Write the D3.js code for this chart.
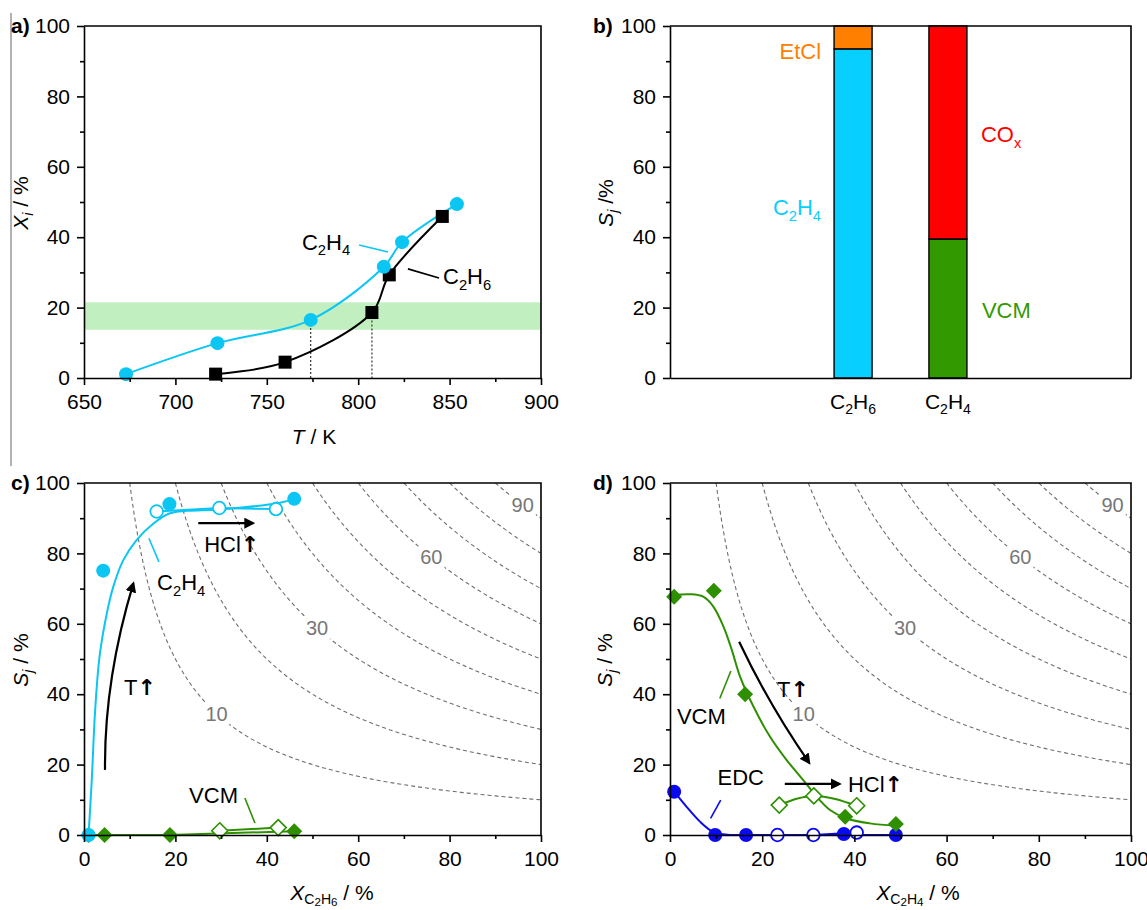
<!DOCTYPE html>
<html lang="en">
<head>
<meta charset="UTF-8">
<title>conversion / selectivity</title>
<script src="https://cdn.jsdelivr.net/npm/d3@7"></script>
<style>
body{margin:0;background:#fff;}
svg{display:block;font-family:"Liberation Sans",Arial,sans-serif;}
.axis path,.axis line{stroke:#000;stroke-width:1.6;}
.axis text{font-size:21px;fill:#000;font-family:"Liberation Sans",Arial,sans-serif;}
text{fill:#000;}
.arr{font-family:"DejaVu Sans",sans-serif;}
</style>
</head>
<body>
<svg id="fig" width="1147" height="910"></svg>
<script>
// ---------- data ----------
// a) conversion vs temperature
var aTempC2H4=[673,723,774,814,824,854];
var aConvC2H4=[1.1,9.9,16.5,31.6,38.6,49.4];
var aTempC2H6=[722,760,807.5,817,846];
var aConvC2H6=[1.1,4.5,18.6,29.3,45.9];
var aBand=[13.7,21.5];
var aTicksX=[650,700,750,800,850,900];
var aMinorX=[675,725,775,825,875];
var yTicks=[0,20,40,60,80,100];
var yMinor=[10,30,50,70,90];

// b) selectivity, stacked bars
var bCats=['C2H6','C2H4'];
var bLowerName=['C2H4','VCM'];
var bLower=[93.5,39.5];
var bUpperName=['EtCl','COx'];
var bUpper=[6.5,60.5];

// c) S vs X(C2H6)
var cC2H4X=[1.0,4.2,18.7,46.0];
var cC2H4S=[0,75.1,94.0,95.5];
var cC2H4OpenX=[15.9,29.6,42.0];
var cC2H4OpenS=[91.9,92.9,92.6];
var cFitX=[1.0,1.7,2.4,3.4,5.0,6.4,8.6,11.5,15.2,18.8,22.5,29.8,42.9,46.0];
var cFitS=[0,15.6,34.6,50.7,63,70.5,78.1,83.8,88.5,91.4,92.1,92.5,94.4,95.5];
var cVcmX=[1.0,4.5,18.8,46.0];
var cVcmS=[0,0,0,1.1];
var cVcmOpenX=[29.7,42.5];
var cVcmOpenS=[1.2,2.1];

// d) S vs X(C2H4)
var dVcmX=[0.9,9.5,16.3,38.0,49.0];
var dVcmS=[67.7,69.4,40.0,5.2,3.1];
var dVcmOpenX=[23.7,31.2,40.5];
var dVcmOpenS=[8.5,11.1,8.3];
var dVcmFitX=[0.9,4.3,7.2,9.4,11.6,13.4,15.2,18.1,21.7,25.3,28.9,31.8,34.7,38.3,43.4,49.0];
var dVcmFitS=[68.2,68.4,67.7,64.9,59.2,52.6,45,36.5,27.9,21.3,15.6,10.9,7.1,4.7,3.3,2.6];
var dEdcX=[0.9,9.8,16.5,37.7,49.0];
var dEdcS=[12.3,0,0,0.3,0];
var dEdcOpenX=[23.3,31.1,40.5];
var dEdcOpenS=[0,0,0.7];
var dEdcFitX=[0.9,3.6,6.5,9.4,13.0,20,30,40,49.0];
var dEdcFitS=[12.3,8,3.8,0.9,0,0,0,0,0];

// iso-yield lines (yield = X*S/100)
var yieldLevels=[10,20,30,40,50,60,70,80,90];
var yieldLabels=[10,30,60,90];
var yieldLabelX=[29,51,76,96];
var xTicksPct=[0,20,40,60,80,100];
var xMinorPct=[10,30,50,70,90];

// ---------- style ----------
var cyan='#0BC6F2', cyanBar='#07CFFF', green='#2E8F00', greenBar='#339900',
    blue='#0A0AF0', orange='#FF8000', red='#FF0000';
var annSize=22;

var svg=d3.select('#fig');
svg.append('rect').attr('width',1147).attr('height',910).attr('fill','#fff');

var defs=svg.append('defs');
defs.append('marker').attr('id','ah').attr('viewBox','0 0 10 10')
    .attr('refX',8).attr('refY',5).attr('markerWidth',11).attr('markerHeight',11)
    .attr('markerUnits','userSpaceOnUse').attr('orient','auto')
    .append('path').attr('d','M0,0L10,5L0,10Z').attr('fill','#000');

var PA={l:84,r:541,t:26,b:378};
var PB={l:670,r:1131,t:26,b:378};
var PC={l:84,r:541,t:483,b:835};
var PD={l:670,r:1131,t:483,b:835};

// text with italic / subscript parts: [text, flags] flags: i=italic, s=sub, ss=subsub, a=arrow glyph
function rich(g,segs,size,subs){
    subs=subs||[0.25,0.4];
    var t=g.append('text').style('font-size',size+'px');
    var shift=0;
    segs.forEach(function(s){
        var f=s[1]||'';
        var lvl=f.split('s').length-1;
        var target=[0,size*subs[0],size*subs[1]][lvl];
        var fs=[size,size*0.67,size*0.55][lvl];
        var sp=t.append('tspan').text(s[0]).attr('dy',target-shift).style('font-size',fs+'px');
        if(f.indexOf('i')>=0) sp.style('font-style','italic');
        if(f.indexOf('a')>=0) sp.attr('class','arr').style('font-weight','bold');
        shift=target;
    });
    return t;
}
function chem(str){
    return str.split('').map(function(c){ return [c, /[0-9]/.test(c)?'s':'']; });
}

function frame(p){
    svg.append('path').attr('d','M'+p.l+','+p.t+'H'+p.r+'V'+p.b)
        .attr('fill','none').attr('stroke','#000').attr('stroke-width',1.6);
}
function axes(p,xs,ys,xMaj,xMin){
    frame(p);
    var g=svg.append('g');
    if(xMaj){
        g.append('g').attr('class','axis').attr('transform','translate(0,'+p.b+')')
            .call(d3.axisBottom(xs).tickValues(xMin).tickSize(4).tickSizeOuter(0).tickFormat(''))
            .select('.domain').remove();
        g.append('g').attr('class','axis').attr('transform','translate(0,'+p.b+')')
            .call(d3.axisBottom(xs).tickValues(xMaj).tickSize(7).tickSizeOuter(0).tickPadding(9));
    } else {
        g.append('g').attr('class','axis').attr('transform','translate(0,'+p.b+')')
            .call(d3.axisBottom(xs).tickValues([]).tickSizeOuter(0));
    }
    g.append('g').attr('class','axis').attr('transform','translate('+p.l+',0)')
        .call(d3.axisLeft(ys).tickValues(yMinor).tickSize(4).tickFormat(''))
        .select('.domain').remove();
    g.append('g').attr('class','axis').attr('transform','translate('+p.l+',0)')
        .call(d3.axisLeft(ys).tickValues(yTicks).tickSize(7).tickSizeOuter(0).tickPadding(7));
    g.selectAll('.axis').attr('font-family',null).attr('font-size',null);
}
function panelLabel(txt,x,y){
    svg.append('text').attr('x',x).attr('y',y).text(txt)
        .style('font-size','21px').style('font-weight','bold');
}
function yTitle(segs,x,cy){
    rich(svg,segs,21).attr('transform','translate('+x+','+cy+') rotate(-90)')
        .attr('text-anchor','middle');
}
function xTitle(segs,cx,y,subs){
    rich(svg,segs,21,subs).attr('x',cx).attr('y',y).attr('text-anchor','middle');
}
function zip(a,b){ return a.map(function(v,i){ return [v,b[i]]; }); }

function circles(g,pts,xs,ys,col,open){
    g.selectAll(null).data(pts).enter().append('circle')
        .attr('cx',function(d){return xs(d[0]);}).attr('cy',function(d){return ys(d[1]);})
        .attr('r',open?6.3:7)
        .attr('fill',open?'#fff':col).attr('stroke',col).attr('stroke-width',open?1.8:0);
}
function diamonds(g,pts,xs,ys,col,open){
    g.selectAll(null).data(pts).enter().append('path')
        .attr('d','M0,-8L8,0L0,8L-8,0Z')
        .attr('transform',function(d){return 'translate('+xs(d[0])+','+ys(d[1])+')';})
        .attr('fill',open?'#fff':col).attr('stroke',col).attr('stroke-width',open?1.6:0);
}
function squares(g,pts,xs,ys,col){
    g.selectAll(null).data(pts).enter().append('rect')
        .attr('x',function(d){return xs(d[0])-6.5;}).attr('y',function(d){return ys(d[1])-6.5;})
        .attr('width',13).attr('height',13).attr('fill',col);
}
function curve(g,pts,xs,ys,col,type){
    g.append('path').datum(pts)
        .attr('d',d3.line().x(function(d){return xs(d[0]);}).y(function(d){return ys(d[1]);})
            .curve(type||d3.curveCatmullRom.alpha(0.5)))
        .attr('fill','none').attr('stroke',col).attr('stroke-width',2);
}
function seg(g,xs,ys,p0,p1,col,arrow){
    var l=g.append('line').attr('x1',xs(p0[0])).attr('y1',ys(p0[1]))
        .attr('x2',xs(p1[0])).attr('y2',ys(p1[1]))
        .attr('stroke',col).attr('stroke-width',arrow?2.2:1.6);
    if(arrow) l.attr('marker-end','url(#ah)');
}
function bentArrow(g,xs,ys,p0,c,p1){
    g.append('path')
        .attr('d','M'+xs(p0[0])+','+ys(p0[1])+'Q'+xs(c[0])+','+ys(c[1])+' '+xs(p1[0])+','+ys(p1[1]))
        .attr('fill','none').attr('stroke','#000').attr('stroke-width',2.2)
        .attr('marker-end','url(#ah)');
}
function label(g,xs,ys,pos,segs,col){
    var t=rich(g,segs,annSize).attr('x',xs(pos[0])).attr('y',ys(pos[1]));
    if(col) t.selectAll('tspan').style('fill',col);
    return t;
}

// thin stray rule at left edge
svg.append('line').attr('x1',11).attr('x2',11).attr('y1',13).attr('y2',466)
    .attr('stroke','#666').attr('stroke-width',1);

// ---------- a) ----------
(function(){
    var p=PA;
    var x=d3.scaleLinear().domain([650,900]).range([p.l,p.r]);
    var y=d3.scaleLinear().domain([0,100]).range([p.b,p.t]);
    var g=svg.append('g');
    g.append('rect').attr('x',p.l).attr('width',p.r-p.l)
        .attr('y',y(aBand[1])).attr('height',y(aBand[0])-y(aBand[1])).attr('fill','#C2EFC0');
    // dotted drop lines from the points inside the band
    [[aTempC2H4[2],aConvC2H4[2]],[aTempC2H6[2],aConvC2H6[2]]].forEach(function(d){
        g.append('line').attr('x1',x(d[0])).attr('x2',x(d[0])).attr('y1',y(d[1])).attr('y2',y(0))
            .attr('stroke','#333').attr('stroke-width',1.2).attr('stroke-dasharray','2,2');
    });
    var pC2H4=zip(aTempC2H4,aConvC2H4), pC2H6=zip(aTempC2H6,aConvC2H6);
    curve(g,pC2H6,x,y,'#000');
    curve(g,pC2H4,x,y,cyan);
    squares(g,pC2H6,x,y,'#000');
    circles(g,pC2H4,x,y,cyan,false);
    seg(g,x,y,[800.5,37.8],[816.3,35.8],cyan);
    label(g,x,y,[769.2,36.4],chem('C2H4'));
    seg(g,x,y,[827.2,31.0],[844.2,28.4],'#000');
    label(g,x,y,[846.4,26.7],chem('C2H6'));
    axes(p,x,y,aTicksX,aMinorX);
    panelLabel('a)',11,33);
    yTitle([['X','i'],['i','si'],[' / %','']],28,203);
    xTitle([['T','i'],[' / K','']],314,444);
})();

// ---------- b) ----------
(function(){
    var p=PB;
    var x=d3.scalePoint().domain(bCats).range([p.l,p.r]).padding(1.93);
    var y=d3.scaleLinear().domain([0,100]).range([p.b,p.t]);
    var g=svg.append('g');
    var bw=38;
    var lowCol=[cyanBar,greenBar], upCol=[orange,red];
    bCats.forEach(function(c,i){
        g.append('rect').attr('x',x(c)-bw/2).attr('width',bw)
            .attr('y',y(bLower[i])).attr('height',y(0)-y(bLower[i]))
            .attr('fill',lowCol[i]).attr('stroke','#000').attr('stroke-width',1.4);
        g.append('rect').attr('x',x(c)-bw/2).attr('width',bw)
            .attr('y',y(bLower[i]+bUpper[i])).attr('height',y(bLower[i])-y(bLower[i]+bUpper[i]))
            .attr('fill',upCol[i]).attr('stroke','#000').attr('stroke-width',1.4);
    });
    // segment names
    label(g,function(){return x(bCats[0])-bw/2-13;},y,[0,90.6],[[bUpperName[0],'']],orange).attr('text-anchor','end');
    label(g,function(){return x(bCats[0])-bw/2-13;},y,[0,46.3],chem(bLowerName[0]),cyanBar).attr('text-anchor','end');
    label(g,function(){return x(bCats[1])+bw/2+14;},y,[0,67],[['CO',''],['x','s']],red);
    label(g,function(){return x(bCats[1])+bw/2+15;},y,[0,17],[[bLowerName[1],'']],greenBar);
    axes(p,x,y,null,null);
    bCats.forEach(function(c){
        rich(svg,chem(c),21).attr('x',x(c)).attr('y',p.b+31).attr('text-anchor','middle');
    });
    panelLabel('b)',593,33);
    yTitle([['S','i'],['j','si'],[' /%','']],613,203);
})();

// ---------- iso-yield contours ----------
function contours(g,p,x,y){
    var clipId='clip'+p.l+'_'+p.t;
    defs.append('clipPath').attr('id',clipId).append('rect')
        .attr('x',p.l).attr('y',p.t).attr('width',p.r-p.l).attr('height',p.b-p.t);
    var cg=g.append('g').attr('clip-path','url(#'+clipId+')');
    yieldLevels.forEach(function(Y){
        var pts=d3.range(Y,100.001,0.5).map(function(X){return [X,100*Y/X];});
        cg.append('path').datum(pts)
            .attr('d',d3.line().x(function(d){return x(d[0]);}).y(function(d){return y(d[1]);}))
            .attr('fill','none').attr('stroke','#6f6f6f').attr('stroke-width',1.1)
            .attr('stroke-dasharray','4,3');
    });
    yieldLabels.forEach(function(Y,i){
        var X=yieldLabelX[i], S=100*Y/X;
        var t=cg.append('text').attr('x',x(X)).attr('y',y(S)).attr('dy','0.35em')
            .attr('text-anchor','middle').style('font-size','20px').style('fill','#777').text(Y);
        var bb=t.node().getBBox();
        cg.insert('rect','text').attr('x',bb.x-2).attr('y',bb.y).attr('width',bb.width+4)
            .attr('height',bb.height).attr('fill','#fff');
    });
}

// ---------- c) ----------
(function(){
    var p=PC;
    var x=d3.scaleLinear().domain([0,100]).range([p.l,p.r]);
    var y=d3.scaleLinear().domain([0,100]).range([p.b,p.t]);
    var g=svg.append('g');
    contours(g,p,x,y);
    curve(g,zip(cVcmX,cVcmS),x,y,green,d3.curveLinear);
    curve(g,zip(cVcmOpenX,cVcmOpenS),x,y,green,d3.curveLinear);
    diamonds(g,zip(cVcmX,cVcmS),x,y,green,false);
    diamonds(g,zip(cVcmOpenX,cVcmOpenS),x,y,green,true);
    curve(g,zip(cFitX,cFitS),x,y,cyan);
    curve(g,zip(cC2H4OpenX,cC2H4OpenS),x,y,cyan,d3.curveLinear);
    circles(g,zip(cC2H4X,cC2H4S),x,y,cyan,false);
    circles(g,zip(cC2H4OpenX,cC2H4OpenS),x,y,cyan,true);
    seg(g,x,y,[14.2,84.3],[16.4,77.6],cyan);
    label(g,x,y,[16.0,69.6],chem('C2H4'));
    seg(g,x,y,[25,88.6],[37,88.6],'#000',true);
    label(g,x,y,[26.3,80.5],[['HCl',''],['\u2191','a']]);
    bentArrow(g,x,y,[4.6,18.5],[4.4,44],[10.8,71.5]);
    label(g,x,y,[8.75,39.8],[['T',''],['\u2191','a']]);
    label(g,x,y,[23.0,9.1],[['VCM','']]);
    seg(g,x,y,[35.2,10.5],[37.4,3.4],green);
    axes(p,x,y,xTicksPct,xMinorPct);
    panelLabel('c)',11,490);
    yTitle([['S','i'],['j','si'],[' / %','']],28,660);
    xTitle([['X','i'],['C','s'],['2','ss'],['H','s'],['6','ss'],[' / %','']],332,900,[0.2,0.3]);
})();

// ---------- d) ----------
(function(){
    var p=PD;
    var x=d3.scaleLinear().domain([0,100]).range([p.l,p.r]);
    var y=d3.scaleLinear().domain([0,100]).range([p.b,p.t]);
    var g=svg.append('g');
    contours(g,p,x,y);
    curve(g,zip(dEdcFitX,dEdcFitS),x,y,blue,d3.curveMonotoneX);
    curve(g,zip(dEdcOpenX,dEdcOpenS),x,y,blue,d3.curveLinear);
    curve(g,zip(dVcmFitX,dVcmFitS),x,y,green);
    curve(g,zip(dVcmOpenX,dVcmOpenS),x,y,green,d3.curveMonotoneX);
    circles(g,zip(dEdcX,dEdcS),x,y,blue,false);
    circles(g,zip(dEdcOpenX,dEdcOpenS),x,y,blue,true);
    diamonds(g,zip(dVcmX,dVcmS),x,y,green,false);
    diamonds(g,zip(dVcmOpenX,dVcmOpenS),x,y,green,true);
    label(g,x,y,[1.5,31.5],[['VCM','']]);
    seg(g,x,y,[13.2,46.6],[10.8,38.8],green);
    label(g,x,y,[10.3,14.2],[['EDC','']]);
    seg(g,x,y,[11,9.9],[8.8,4.7],blue);
    bentArrow(g,x,y,[15,54.9],[21.5,36.9],[30.2,20.5]);
    label(g,x,y,[23.2,39.2],[['T',''],['\u2191','a']]);
    seg(g,x,y,[24.9,14.5],[36.8,14.5],'#000',true);
    label(g,x,y,[38.6,12.2],[['HCl',''],['\u2191','a']]);
    axes(p,x,y,xTicksPct,xMinorPct);
    panelLabel('d)',593,490);
    yTitle([['S','i'],['j','si'],[' / %','']],612,660);
    xTitle([['X','i'],['C','s'],['2','ss'],['H','s'],['4','ss'],[' / %','']],918,900,[0.2,0.3]);
})();
</script>
</body>
</html>
